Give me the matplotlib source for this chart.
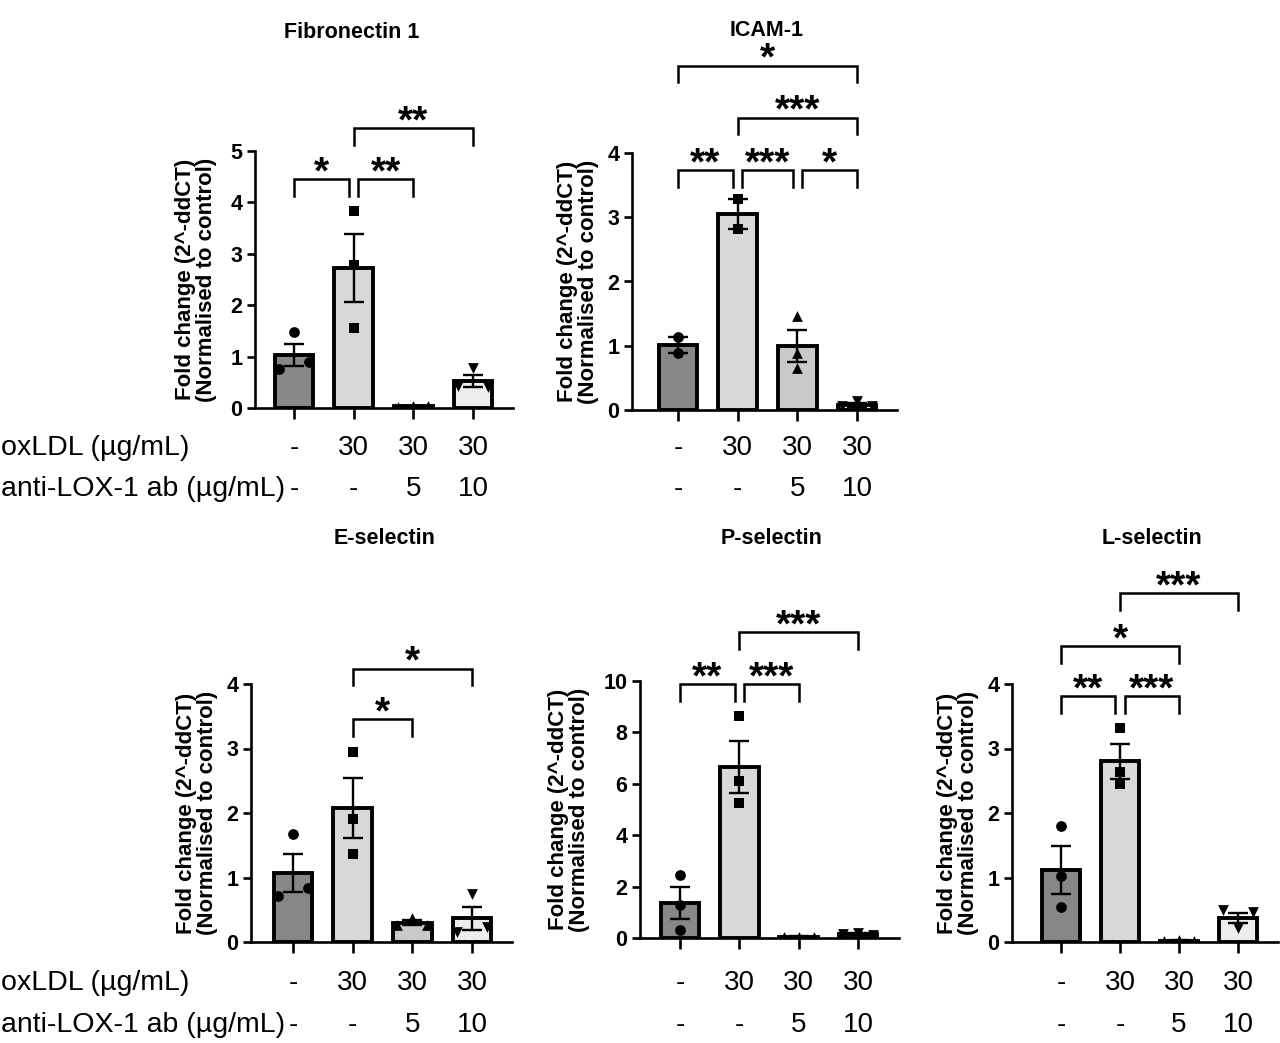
import numpy as np
import matplotlib.pyplot as plt

plt.rcParams['font.family'] = ['Liberation Sans', 'DejaVu Sans']

W, H = 1280, 1043

# x-axis rows under each graph
oxldl_row = ['-', '30', '30', '30']
antibody_row = ['-', '-', '5', '10']
ylabel = 'Fold change (2^-ddCT)\n(Normalised to control)'

# Fibronectin 1
fn1_mean = [1.03, 2.72, 0.03, 0.52]
fn1_sem = [0.22, 0.66, 0.01, 0.12]
fn1_points = [[1.47, 0.75, 0.90], [3.83, 2.79, 1.56], [0.02, 0.04, 0.03], [0.78, 0.42, 0.40]]
fn1_sig = [(0, 1, 4.45, '*'), (1, 2, 4.45, '**'), (1, 3, 5.45, '**')]

# ICAM-1
icam_mean = [1.01, 3.05, 1.00, 0.08]
icam_sem = [0.12, 0.23, 0.25, 0.03]
icam_points = [[1.13, 0.89], [3.28, 2.82], [1.47, 0.88, 0.66], [0.06, 0.14, 0.06]]
icam_sig = [(0, 1, 3.73, '**'), (1, 2, 3.73, '***'), (2, 3, 3.73, '*'),
            (1, 3, 4.55, '***'), (0, 3, 5.36, '*')]

# E-selectin
esel_mean = [1.07, 2.08, 0.30, 0.37]
esel_sem = [0.30, 0.47, 0.035, 0.18]
esel_points = [[1.67, 0.72, 0.83], [2.95, 1.91, 1.37], [0.37, 0.26, 0.27], [0.74, 0.15, 0.24]]
esel_sig = [(1, 2, 3.46, '*'), (1, 3, 4.24, '*')]

# P-selectin
psel_mean = [1.35, 6.67, 0.05, 0.15]
psel_sem = [0.62, 1.01, 0.01, 0.03]
psel_points = [[2.47, 1.27, 0.30], [8.65, 6.12, 5.27], [0.05, 0.05, 0.04], [0.15, 0.20, 0.12]]
psel_sig = [(0, 1, 9.87, '**'), (1, 2, 9.87, '***'), (1, 3, 11.9, '***')]

# L-selectin
lsel_mean = [1.12, 2.80, 0.02, 0.37]
lsel_sem = [0.37, 0.27, 0.01, 0.08]
lsel_points = [[1.80, 1.02, 0.54], [3.32, 2.64, 2.45], [0.02, 0.03, 0.02], [0.49, 0.22, 0.47]]
lsel_sig = [(0, 1, 3.81, '**'), (1, 2, 3.81, '***'), (0, 2, 4.59, '*'), (1, 3, 5.41, '***')]

bar_colors = ['#878787', '#d8d8d8', '#c9c9c9', '#ededed']
markers = ['o', 's', '^', 'v']
marker_sizes = [60, 50, 60, 60]


def px_to_fig(x, y):
    return x / W, 1 - y / H


def draw_panel(fig, box, title, title_xy, ylab_x, ymax, ystep,
               mean, sem, points, jitter, sig, row_labels=False, rows_y=None):
    left, right, bottom, top, x0, x3 = box
    unit = (x3 - x0) / 3
    ax = fig.add_axes([left / W, 1 - bottom / H, (right - left) / W, (bottom - top) / H])
    xs = np.arange(4)

    ax.bar(xs, mean, width=0.65, color=bar_colors, edgecolor='black',
           linewidth=2.8, zorder=2)
    ax.errorbar(xs, mean, yerr=sem, fmt='none', ecolor='black', elinewidth=1.7,
                capsize=7.5, capthick=1.7, zorder=3)
    for i in range(4):
        off = np.array(jitter[i][:len(points[i])]) * 0.25
        ax.scatter(xs[i] + off, points[i], marker=markers[i], s=marker_sizes[i],
                   color='black', linewidths=0, zorder=4)

    ax.set_xlim((left - x0) / unit, (right - x0) / unit)
    ax.set_ylim(0, ymax)
    ax.set_xticks(xs)
    ax.set_xticklabels([])
    ax.set_yticks(np.arange(0, ymax + 0.01, ystep))
    ax.set_yticklabels([f'{v:g}' for v in np.arange(0, ymax + 0.01, ystep)],
                       fontsize=15.5, fontweight='bold')
    ax.tick_params(axis='x', length=8, width=1.9, direction='out')
    ax.tick_params(axis='y', length=6, width=1.9, direction='out', pad=3)
    for s in ['top', 'right']:
        ax.spines[s].set_visible(False)
    for s in ['left', 'bottom']:
        ax.spines[s].set_linewidth(1.9)
    ax.patch.set_alpha(0)

    # significance brackets
    drop = 0.065 * ymax
    for i, j, y, lab in sig:
        xa, xb = i, j
        for k, l, yy, _ in sig:
            if (k, l) == (i, j) or abs(yy - y) > 1e-6:
                continue
            if l == i:
                xa = i + 0.08
            if k == j:
                xb = j - 0.08
        ax.plot([xa, xa, xb, xb], [y - drop, y, y, y - drop], color='black',
                lw=1.8, clip_on=False, solid_joinstyle='miter')
        ax.annotate(lab, ((xa + xb) / 2, y), xytext=(0, -3), textcoords='offset points',
                    ha='center', va='baseline', fontsize=28, fontweight='bold',
                    annotation_clip=False)

    tx, ty = px_to_fig(*title_xy)
    fig.text(tx, ty, title, ha='center', va='center', fontsize=15.5, fontweight='bold')
    lx, ly = px_to_fig(ylab_x, (top + bottom) / 2)
    fig.text(lx, ly, ylabel, rotation=90, ha='center', va='center', fontsize=16,
             fontweight='bold', linespacing=1.0, multialignment='center')

    y1, y2 = rows_y
    for i in range(4):
        bx = x0 + i * unit
        fig.text(*px_to_fig(bx, y1), oxldl_row[i], ha='center', va='baseline', fontsize=20)
        fig.text(*px_to_fig(bx, y2), antibody_row[i], ha='center', va='baseline', fontsize=20)
    if row_labels:
        fig.text(*px_to_fig(1, y1), 'oxLDL (µg/mL)', ha='left', va='baseline', fontsize=20.5)
        fig.text(*px_to_fig(1, y2), 'anti-LOX-1 ab (µg/mL)', ha='left', va='baseline',
                 fontsize=20.5)
    return ax


fig = plt.figure(figsize=(W / 100, H / 100), dpi=100)

draw_panel(fig, (255, 513, 408, 151, 294, 473), 'Fibronectin 1', (352, 33), 196, 5, 1,
           fn1_mean, fn1_sem, fn1_points,
           [[0, -1, 1], [0, 0, 0], [-1, 0, 1], [0, -1, 1]], fn1_sig,
           row_labels=True, rows_y=(455, 496))
draw_panel(fig, (632, 897, 410, 153, 678, 857), 'ICAM-1', (767, 31), 578, 4, 1,
           icam_mean, icam_sem, icam_points,
           [[0, 0], [0, 0], [0, 0, 0], [-1, 0, 1]], icam_sig,
           rows_y=(455, 496))
draw_panel(fig, (251, 512, 942, 684, 293, 472), 'E-selectin', (385, 538), 197, 4, 1,
           esel_mean, esel_sem, esel_points,
           [[0, -1, 1], [0, 0, 0], [0, -1, 1], [0, -1, 1]], esel_sig,
           row_labels=True, rows_y=(990, 1032))
draw_panel(fig, (640, 899, 938, 681, 680, 858), 'P-selectin', (772, 538), 569, 10, 2,
           psel_mean, psel_sem, psel_points,
           [[0, 0, 0], [0, 0, 0], [-1, 0, 1], [-1, 0, 1]], psel_sig,
           rows_y=(990, 1032))
draw_panel(fig, (1012, 1278, 942, 684, 1061, 1238), 'L-selectin', (1152, 538), 958, 4, 1,
           lsel_mean, lsel_sem, lsel_points,
           [[0, 0, 0], [0, 0, 0], [-1, 0, 1], [-1, 0, 1]], lsel_sig,
           rows_y=(990, 1032))

fig.savefig('out.png', dpi=100)
